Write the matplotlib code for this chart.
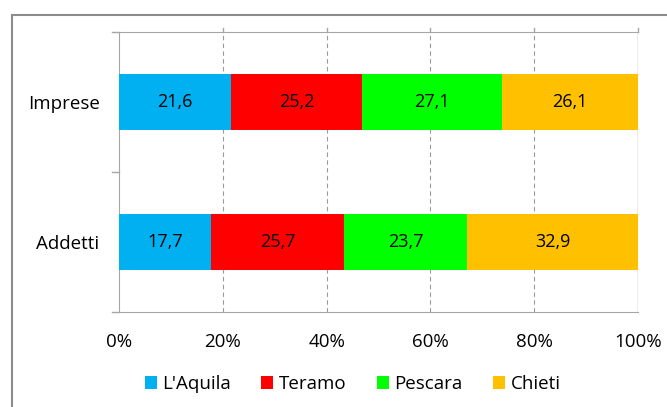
import matplotlib.pyplot as plt
from matplotlib.patches import Rectangle

categorie = ["Imprese", "Addetti"]
province = ["L'Aquila", "Teramo", "Pescara", "Chieti"]
colori = ["#00B0F0", "#FF0000", "#00FF00", "#FFC000"]
imprese = [21.6, 25.2, 27.1, 26.1]
addetti = [17.7, 25.7, 23.7, 32.9]
valori = [imprese, addetti]

plt.rcParams['font.family'] = ['Open Sans', 'DejaVu Sans']

fig = plt.figure(figsize=(6.67, 4.07), dpi=100)
ax = fig.add_axes([0.1784, 0.2334, 0.778, 0.688])

# cornice esterna
fig.patches.append(Rectangle((12 / 667, -0.1), 1.2, 1 - 15 / 407 + 0.1,
                             transform=fig.transFigure, fill=False,
                             edgecolor="#8c8c8c", linewidth=1.5))

ypos = [1, 0]
for i, prov in enumerate(province):
    left = [sum(v[:i]) for v in valori]
    w = [v[i] for v in valori]
    ax.barh(ypos, w, left=left, height=0.4, color=colori[i], label=prov, zorder=3)
    for y, l, val in zip(ypos, left, w):
        ax.text(l + val / 2, y, f"{val:.1f}".replace(".", ","), ha="center",
                va="center", fontsize=13, color="black", zorder=4)

ax.set_xlim(0, 100)
ax.set_ylim(-0.5, 1.5)
ax.set_xticks([0, 20, 40, 60, 80, 100])
ax.set_xticklabels(["0%", "20%", "40%", "60%", "80%", "100%"], fontsize=13.5)
ax.set_yticks(ypos)
ax.set_yticklabels(categorie, fontsize=13.5)
ax.tick_params(axis="y", length=0, pad=14)
ax.tick_params(axis="x", length=0, pad=15)
for x in [20, 40, 60, 80]:
    ax.axvline(x, color="#9a9a9a", linestyle=(0, (4, 3)), linewidth=0.8, zorder=1)
ax.axvline(100, color="#a6a6a6", linewidth=1, zorder=1)
for s in ["top", "bottom", "left"]:
    ax.spines[s].set_color("#a6a6a6")
ax.spines["right"].set_visible(False)
# tacche dell'asse categorie
for y in [-0.5, 0.5, 1.5]:
    ax.plot([-1.3, 0], [y, y], color="#a6a6a6", linewidth=1, clip_on=False)
for x in [20, 40, 60, 80, 100]:
    ax.plot([x, x], [1.5, 1.53], color="#a6a6a6", linewidth=1, clip_on=False)

ax.legend(loc="upper center", bbox_to_anchor=(0.45, -0.165), ncol=4, frameon=False,
          fontsize=13.5, handlelength=0.65, handleheight=0.7, handletextpad=0.3,
          columnspacing=1.6)

fig.savefig("out.png", dpi=100)
